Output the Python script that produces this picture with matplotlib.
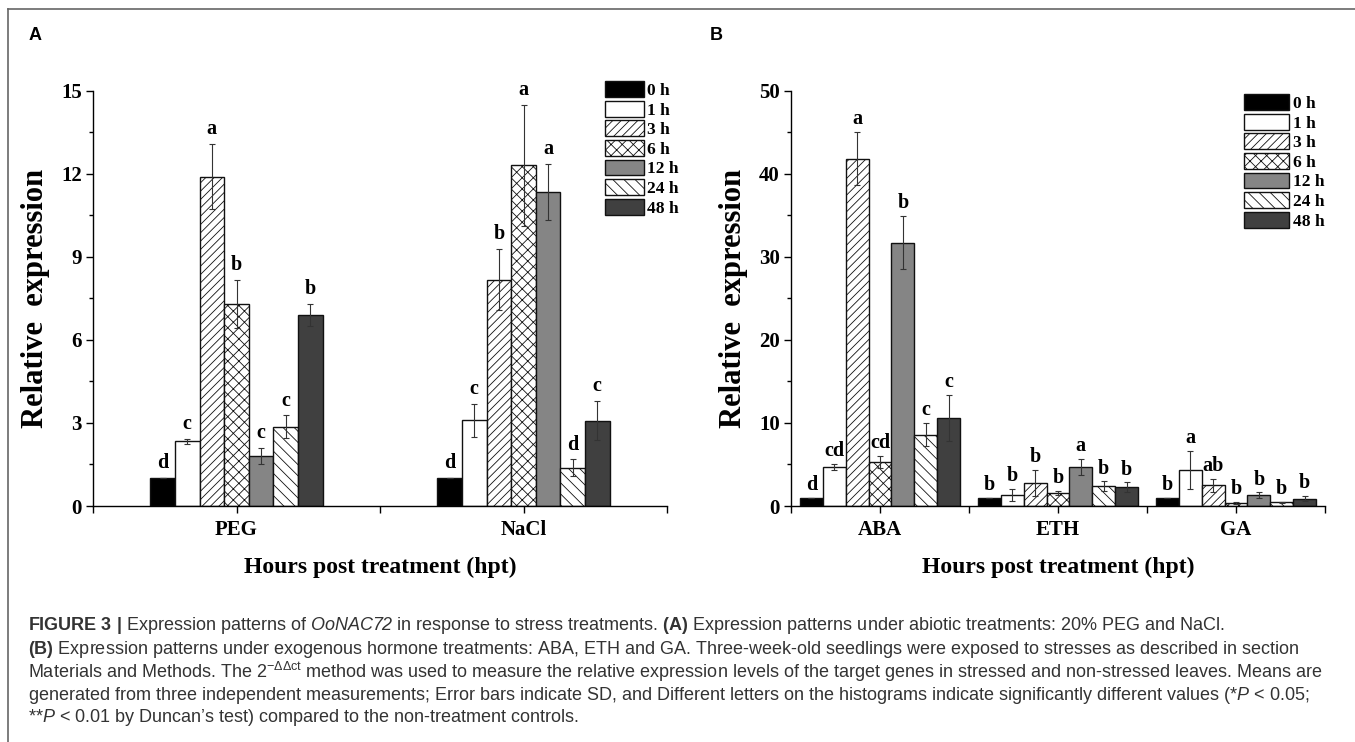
import numpy as np
import matplotlib.pyplot as plt
from matplotlib.lines import Line2D
from matplotlib.ticker import MultipleLocator, FixedLocator
from matplotlib.font_manager import FontProperties

plt.rcParams['font.family'] = 'Liberation Serif'
plt.rcParams['hatch.linewidth'] = 0.6
plt.rcParams['mathtext.fontset'] = 'custom'
plt.rcParams['mathtext.rm'] = 'Liberation Sans'
plt.rcParams['mathtext.it'] = 'Liberation Sans:italic'
plt.rcParams['mathtext.sf'] = 'Liberation Sans:italic'
plt.rcParams['mathtext.bf'] = 'Liberation Sans:bold'

# Datos
times = ['0 h', '1 h', '3 h', '6 h', '12 h', '24 h', '48 h']

abiotic = ['PEG', 'NaCl']
peg_mean = [1.0, 2.33, 11.9, 7.3, 1.8, 2.87, 6.9]
peg_sd = [0, 0.1, 1.18, 0.87, 0.3, 0.4, 0.4]
peg_sig = ['d', 'c', 'a', 'b', 'c', 'c', 'b']
nacl_mean = [1.0, 3.1, 8.18, 12.3, 11.34, 1.38, 3.08]
nacl_sd = [0, 0.6, 1.1, 2.2, 1.0, 0.3, 0.7]
nacl_sig = ['d', 'c', 'b', 'a', 'a', 'd', 'c']

hormones = ['ABA', 'ETH', 'GA']
aba_mean = [1.0, 4.7, 41.8, 5.3, 31.7, 8.6, 10.6]
aba_sd = [0, 0.4, 3.2, 0.7, 3.2, 1.4, 2.8]
aba_sig = ['d', 'cd', 'a', 'cd', 'b', 'c', 'c']
eth_mean = [1.0, 1.35, 2.75, 1.55, 4.7, 2.4, 2.25]
eth_sd = [0, 0.75, 1.6, 0.25, 1.0, 0.55, 0.6]
eth_sig = ['b', 'b', 'b', 'b', 'a', 'b', 'b']
ga_mean = [1.0, 4.3, 2.5, 0.4, 1.3, 0.45, 0.9]
ga_sd = [0, 2.3, 0.8, 0.1, 0.35, 0.05, 0.3]
ga_sig = ['b', 'a', 'ab', 'b', 'b', 'b', 'b']

# Estilos de las barras
colors = ['#000000', '#ffffff', '#ffffff', '#ffffff', '#858585', '#ffffff', '#404040']
hatches = [None, None, '////', 'xxx', None, '\\\\\\', None]

W, H = 1355, 742
fig = plt.figure(figsize=(W / 100, H / 100), dpi=100)


def box(x0, y0, x1, y1):
    return [x0 / W, 1 - y1 / H, (x1 - x0) / W, (y1 - y0) / H]


def panel(ax, groups, means, sds, sigs, group_w, ymax, ystep, off):
    n = len(times)
    w = group_w / n
    centers = np.arange(1, len(groups) + 1)
    for i, t in enumerate(times):
        xs = centers + (i - (n - 1) / 2) * w
        vals = [m[i] for m in means]
        errs = [s[i] for s in sds]
        ax.bar(xs, vals, w, color=colors[i], edgecolor='#111111', hatch=hatches[i],
               linewidth=1.0, label=t)
        ax.errorbar(xs, vals, yerr=errs, fmt='none', ecolor='#333333',
                    elinewidth=0.8, capsize=2.5, capthick=0.8)
        for x, v, e, s in zip(xs, vals, errs, [g[i] for g in sigs]):
            ax.annotate(s, (x, v + e), xytext=(0, off), textcoords='offset points',
                        ha='center', va='bottom', fontsize=14.5, fontweight='bold')
    ax.set_xlim(0.5, len(groups) + 0.5)
    ax.set_ylim(0, ymax)
    ax.set_xticks(centers)
    ax.set_xticklabels(groups)
    ax.xaxis.set_minor_locator(FixedLocator(np.arange(0.5, len(groups) + 1, 1)))
    ax.set_yticks(np.arange(0, ymax + 0.1, ystep))
    ax.yaxis.set_minor_locator(MultipleLocator(ystep / 2))
    ax.spines['top'].set_visible(False)
    ax.spines['right'].set_visible(False)
    for sp in ['left', 'bottom']:
        ax.spines[sp].set_linewidth(1.0)
    ax.tick_params(axis='both', which='major', direction='out', length=5, width=1.0,
                   labelsize=15, pad=3)
    ax.tick_params(axis='x', which='both', length=5, width=1.0)
    ax.tick_params(axis='x', which='major', pad=5)
    ax.tick_params(axis='y', which='minor', direction='out', length=3, width=1.0)
    plt.setp(ax.get_xticklabels() + ax.get_yticklabels(), fontweight='bold')
    ax.set_xlabel('Hours post treatment (hpt)', fontsize=17, fontweight='bold', labelpad=12)
    ax.set_ylabel('Relative  expression', fontsize=22, fontweight='bold', labelpad=8)


leg_font = FontProperties(family='Liberation Serif', weight='bold', size=12.5)

axA = fig.add_axes(box(93, 90.7, 667, 506))
panel(axA, abiotic, [peg_mean, nacl_mean], [peg_sd, nacl_sd], [peg_sig, nacl_sig],
      0.6, 15, 3, 3.5)
axA.legend(loc='upper left', bbox_to_anchor=(605 / W, 1 - 81 / H),
           bbox_transform=fig.transFigure, frameon=False, prop=leg_font,
           borderpad=0, borderaxespad=0, handlelength=39 / 17.4, handleheight=18 / 17.4,
           handletextpad=0.2, labelspacing=0.1)

axB = fig.add_axes(box(791, 90.7, 1325, 506))
panel(axB, hormones, [aba_mean, eth_mean, ga_mean], [aba_sd, eth_sd, ga_sd],
      [aba_sig, eth_sig, ga_sig], 0.9, 50, 10, 2)
axB.legend(loc='upper left', bbox_to_anchor=(1244 / W, 1 - 94 / H),
           bbox_transform=fig.transFigure, frameon=False, prop=leg_font,
           borderpad=0, borderaxespad=0, handlelength=45 / 17.4, handleheight=18 / 17.4,
           handletextpad=0.25, labelspacing=0.1)

# Letras de panel
fig.text(29 / W, 1 - 35 / H, 'A', family='Liberation Sans', fontweight='bold',
         fontsize=13, va='center', ha='left')
fig.text(710 / W, 1 - 35 / H, 'B', family='Liberation Sans', fontweight='bold',
         fontsize=13, va='center', ha='left')

# Marco
fig.add_artist(Line2D([8 / W, 1], [1 - 8.5 / H, 1 - 8.5 / H], transform=fig.transFigure,
                      color='#666666', lw=1.2))
fig.add_artist(Line2D([8 / W, 8 / W], [0, 1 - 8.5 / H], transform=fig.transFigure,
                      color='#666666', lw=1.2))

# Pie de figura
caption = [
    r"$\mathbf{FIGURE\ 3\ |}$ Expression patterns of $\mathsf{OoNAC72}$ in response to stress treatments. $\mathbf{(A)}$ Expression patterns under abiotic treatments: 20% PEG and NaCl.",
    r"$\mathbf{(B)}$ Expression patterns under exogenous hormone treatments: ABA, ETH and GA. Three-week-old seedlings were exposed to stresses as described in section",
    r"Materials and Methods. The 2$^{-\Delta\Delta \mathrm{ct}}$ method was used to measure the relative expression levels of the target genes in stressed and non-stressed leaves. Means are",
    r"generated from three independent measurements; Error bars indicate SD, and Different letters on the histograms indicate significantly different values (*$\mathsf{P}$ < 0.05;",
    r"**$\mathsf{P}$ < 0.01 by Duncan’s test) compared to the non-treatment controls.",
]
for k, line in enumerate(caption):
    fig.text(28 / W, 1 - (626 + 23 * k) / H, line, family='Liberation Sans',
             fontweight='normal', fontsize=13, color='#333333', va='center', ha='left')

fig.savefig('out.png', dpi=100)
